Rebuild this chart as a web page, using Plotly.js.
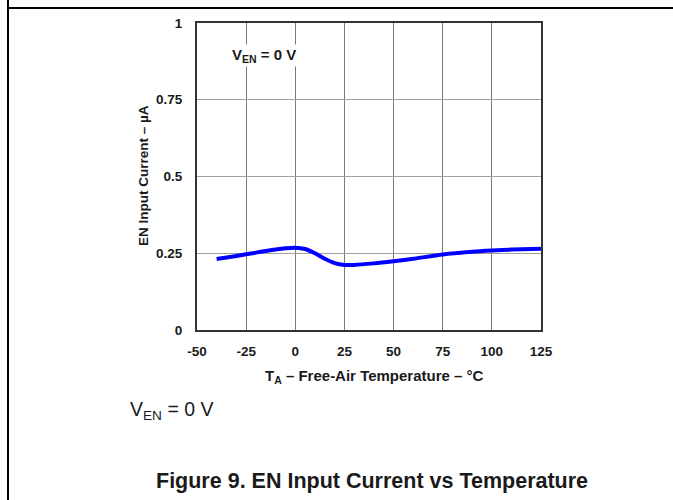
<!DOCTYPE html>
<html>
<head>
<meta charset="utf-8">
<script src="https://cdn.plot.ly/plotly-3.0.1.min.js"></script>
<style>
html,body{margin:0;padding:0;background:#fff;}
#chart{width:673px;height:500px;}
</style>
</head>
<body>
<div id="chart"></div>
<script>
// Data
var temperature = [-40, -30, -20, -10, -5, 0, 5, 10, 15, 20, 25, 30, 40, 50, 60, 75, 90, 100, 110, 125];
var enCurrent   = [0.231, 0.241, 0.252, 0.262, 0.266, 0.268, 0.264, 0.250, 0.232, 0.218, 0.212, 0.212, 0.217, 0.224, 0.232, 0.246, 0.255, 0.259, 0.262, 0.265];
var xTicks = [-50, -25, 0, 25, 50, 75, 100, 125];
var yTicks = [0, 0.25, 0.5, 0.75, 1];
var yTickText = ['0', '0.25', '0.5', '0.75', '1'];

var FONT = 'Liberation Sans, Arial, sans-serif';

// plot-area pixel geometry helpers for decorations
var L = 197, R = 541, T = 23, B = 330, W = 673, H = 500;
function px(x){ return (x - L) / (R - L); }
function py(y){ return (B - y) / (B - T); }

var trace = {
  x: temperature, y: enCurrent, type: 'scatter', mode: 'lines',
  line: {color: '#0000ff', width: 4, shape: 'spline', smoothing: 0.8},
  hoverinfo: 'skip'
};

var layout = {
  width: W, height: H,
  margin: {l: L, r: W - R, t: T, b: H - B, pad: 0},
  paper_bgcolor: '#fff', plot_bgcolor: '#fff',
  showlegend: false,
  font: {family: FONT, color: '#1a1a1a'},
  xaxis: {
    range: [-50, 125], tickvals: xTicks, ticktext: xTicks.map(String),
    showgrid: true, gridcolor: '#7a7a7a', gridwidth: 1,
    zeroline: false, showline: true, linecolor: '#333', linewidth: 2, mirror: true,
    ticks: 'outside', ticklen: 8, tickcolor: 'rgba(0,0,0,0)',
    tickfont: {family: FONT, size: 13.5, color: '#1a1a1a', weight: 'bold'},
    fixedrange: true
  },
  yaxis: {
    range: [0, 1], tickvals: yTicks, ticktext: yTickText,
    showgrid: true, gridcolor: '#a0a0a0', gridwidth: 1,
    zeroline: false, showline: true, linecolor: '#333', linewidth: 2, mirror: true,
    ticks: 'outside', ticklen: 10, tickcolor: 'rgba(0,0,0,0)',
    tickfont: {family: FONT, size: 13.5, color: '#1a1a1a', weight: 'bold'},
    fixedrange: true
  },
  shapes: [
    {type: 'line', xref: 'paper', yref: 'paper', x0: px(8), x1: px(673), y0: py(8), y1: py(8), line: {color: '#000', width: 2}},
    {type: 'line', xref: 'paper', yref: 'paper', x0: px(8), x1: px(8), y0: py(0), y1: py(500), line: {color: '#000', width: 2}}
  ],
  annotations: [
    {xref: 'paper', yref: 'paper', x: px(264), y: py(55), xanchor: 'center', yanchor: 'middle', showarrow: false,
     text: 'V<sub>EN</sub> = 0 V', bgcolor: '#fff', font: {family: FONT, size: 15, color: '#1a1a1a', weight: 'bold'}},
    {xref: 'paper', yref: 'paper', x: px(374), y: py(376), xanchor: 'center', yanchor: 'middle', showarrow: false,
     text: 'T<sub>A</sub> – Free-Air Temperature – °C', font: {family: FONT, size: 15, color: '#1a1a1a', weight: 'bold'}},
    {xref: 'paper', yref: 'paper', x: px(143), y: py(176), xanchor: 'center', yanchor: 'middle', showarrow: false, textangle: -90,
     text: 'EN Input Current – µA', font: {family: FONT, size: 13.5, color: '#1a1a1a', weight: 'bold'}},
    {xref: 'paper', yref: 'paper', x: px(128), y: py(410), xanchor: 'left', yanchor: 'middle', showarrow: false,
     text: 'V<sub>EN</sub> = 0 V', font: {family: FONT, size: 19.5, color: '#1a1a1a'}},
    {xref: 'paper', yref: 'paper', x: px(372), y: py(481), xanchor: 'center', yanchor: 'middle', showarrow: false,
     text: 'Figure 9. EN Input Current vs Temperature', font: {family: FONT, size: 21.5, color: '#1a1a1a', weight: 'bold'}}
  ]
};

Plotly.newPlot('chart', [trace], layout, {displayModeBar: false, staticPlot: true});
</script>
</body>
</html>
